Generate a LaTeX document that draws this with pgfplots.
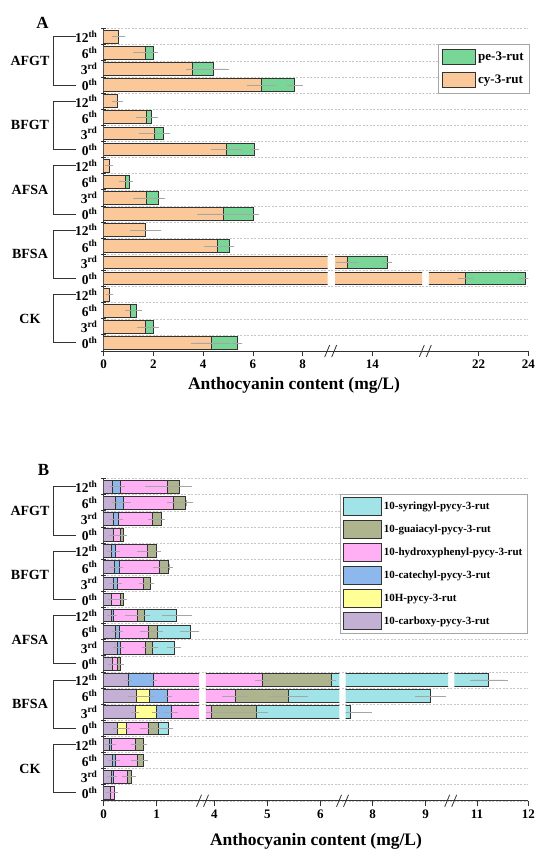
\documentclass[border=0pt]{standalone}
\usepackage{fontspec}
\setmainfont{Liberation Serif}
\usepackage{pgfplots}
\usepackage{pgfplotstable}
\pgfplotsset{compat=1.18}

\definecolor{cyA}{RGB}{251,200,154}
\definecolor{peA}{RGB}{120,215,150}
\definecolor{cyanB}{RGB}{160,228,232}
\definecolor{oliveB}{RGB}{173,180,142}
\definecolor{pinkB}{RGB}{255,176,245}
\definecolor{blueB}{RGB}{140,184,238}
\definecolor{yellowB}{RGB}{255,255,150}
\definecolor{purpleB}{RGB}{197,176,213}

% Z = zero base column (invisible first stack level)
\pgfplotstableread{
y Z cy cye pe pee
0 0 4.32 0.68 1.05 0.08
1 0 1.69 0.25 0.32 0.10
2 0 1.07 0.10 0.24 0.10
3 0 0.23 0.03 0.00 0.00
4 0 21.47 0.17 2.40 0.13
5 0 13.00 0.35 1.60 0.05
6 0 4.56 0.40 0.50 0.05
7 0 1.69 0.50 0.00 0.00
8 0 4.80 0.94 1.21 0.10
9 0 1.73 0.45 0.48 0.15
10 0 0.88 0.15 0.14 0.05
11 0 0.21 0.03 0.00 0.00
12 0 4.94 0.51 1.12 0.05
13 0 2.03 0.50 0.35 0.15
14 0 1.73 0.33 0.20 0.10
15 0 0.56 0.10 0.00 0.00
16 0 6.35 0.47 1.33 0.21
17 0 3.56 0.13 0.84 0.51
18 0 1.66 0.37 0.33 0.08
19 0 0.59 0.15 0.00 0.00
}\dataA

\pgfplotstableread{
y Z P Pe Y Ye B Be K Ke O Oe C Ce
0 0 0.12 0.02 0 0 0 0 0.08 0.02 0 0 0 0
1 0 0.14 0.02 0 0 0.04 0.02 0.27 0.05 0.08 0.02 0 0
2 0 0.16 0.02 0 0 0.07 0.02 0.40 0.05 0.12 0.03 0 0
3 0 0.11 0.02 0 0 0.04 0.02 0.45 0.03 0.14 0.02 0 0
4 0 0.26 0.02 0.16 0.02 0 0 0.43 0.10 0.19 0.08 0.19 0.03
5 0 0.59 0.02 0.40 0.02 0.28 0.07 2.68 0.60 0.85 0.15 2.78 0.34
6 0 0.61 0.10 0.25 0.05 0.35 0.02 3.19 0.19 1.00 0.31 3.69 0.23
7 0 0.46 0.01 0 0 0.48 0.01 3.97 0.09 1.30 0.03 5.02 0.31
8 0 0.16 0.02 0 0 0 0 0.10 0.03 0.05 0.02 0 0
9 0 0.25 0.02 0 0 0.06 0.02 0.48 0.02 0.13 0.05 0.41 0.07
10 0 0.23 0.02 0 0 0.06 0.02 0.56 0.10 0.16 0.05 0.62 0.13
11 0 0.14 0.02 0 0 0.04 0.02 0.46 0.18 0.13 0.05 0.61 0.23
12 0 0.15 0.02 0 0 0 0 0.17 0.03 0.05 0.02 0 0
13 0 0.18 0.02 0 0 0.08 0.02 0.49 0.02 0.13 0.02 0 0
14 0 0.20 0.02 0 0 0.09 0.02 0.76 0.06 0.18 0.03 0 0
15 0 0.14 0.02 0 0 0.09 0.02 0.60 0.14 0.16 0.03 0 0
16 0 0.18 0.03 0 0 0.01 0.01 0.13 0.03 0.05 0.02 0 0
17 0 0.19 0.02 0 0 0.09 0.02 0.64 0.02 0.16 0.02 0 0
18 0 0.23 0.02 0 0 0.14 0.09 0.94 0.05 0.24 0.08 0 0
19 0 0.17 0.02 0 0 0.14 0.03 0.90 0.38 0.21 0.18 0 0
}\dataB

\pgfplotsset{
  frame/.style={
    scale only axis, width=424.6pt, height=322.4pt,
    anchor=south west,
    xmin=103.7, xmax=528.3, ymin=-0.5, ymax=19.5,
    axis x line=bottom, axis y line=left,
    axis line style={-, black!80, line width=0.8pt},
    xtick=\empty,
    ytick={0,...,19},
    yticklabels={0\textsuperscript{th},3\textsuperscript{rd},6\textsuperscript{th},12\textsuperscript{th},
                 0\textsuperscript{th},3\textsuperscript{rd},6\textsuperscript{th},12\textsuperscript{th},
                 0\textsuperscript{th},3\textsuperscript{rd},6\textsuperscript{th},12\textsuperscript{th},
                 0\textsuperscript{th},3\textsuperscript{rd},6\textsuperscript{th},12\textsuperscript{th},
                 0\textsuperscript{th},3\textsuperscript{rd},6\textsuperscript{th},12\textsuperscript{th}},
    minor ytick={-0.5,0.5,...,19.5},
    major tick length=0pt, minor tick length=5pt, tick align=center,
    every tick/.style={black!80, line width=0.8pt},
    yminorgrids=true,
    minor grid style={gray!45, line width=0.5pt, dash pattern=on 2pt off 1.5pt},
    yticklabel style={font=\bfseries\fontsize{13.5}{14}\selectfont, inner sep=0pt, xshift=-6pt},
    clip=false,
  },
  seg/.style={
    scale only axis, height=322.4pt, anchor=south west,
    xbar stacked, bar width=12.7pt,
    ymin=-0.5, ymax=19.5,
    axis y line=none, ytick=\empty,
    axis x line=bottom,
    x axis line style={draw=none},
    tick align=outside, major tick length=5.5pt,
    every tick/.style={black!80, line width=0.8pt},
    xticklabel style={font=\bfseries\fontsize{13}{14}\selectfont},
    /pgf/number format/assume math mode=true,
  },
  br/.style={draw=black!80, line width=0.8pt,
    error bars/.cd, x dir=both, x explicit,
    error bar style={gray!70, line width=0.6pt},
    error mark options={gray!70, mark size=3pt, line width=0.6pt}},
}

\newcommand{\plotsA}{%
  \addplot[draw=none, fill=none] table[x=Z, y=y] {\dataA};
  \addplot[fill=cyA, br] table[x=cy, y=y, x error=cye] {\dataA};
  \addplot[fill=peA, br] table[x=pe, y=y, x error=pee] {\dataA};
}
\newcommand{\plotsB}{%
  \addplot[draw=none, fill=none] table[x=Z, y=y] {\dataB};
  \addplot[fill=purpleB, br] table[x=P, y=y, x error=Pe] {\dataB};
  \addplot[fill=yellowB, br] table[x=Y, y=y, x error=Ye] {\dataB};
  \addplot[fill=blueB, br] table[x=B, y=y, x error=Be] {\dataB};
  \addplot[fill=pinkB, br] table[x=K, y=y, x error=Ke] {\dataB};
  \addplot[fill=oliveB, br] table[x=O, y=y, x error=Oe] {\dataB};
  \addplot[fill=cyanB, br] table[x=C, y=y, x error=Ce] {\dataB};
}

\begin{document}
\begin{tikzpicture}
\useasboundingbox (0,0) rectangle (537pt,850pt);

% ---------------- Panel A ----------------
\begin{axis}[frame, at={(103.7pt,499pt)},
  legend image code/.code={\draw[#1] (0pt,-7.5pt) rectangle (33pt,7.5pt);},
  legend style={at={(axis description cs:1.004,0.952)}, anchor=north east,
    draw=gray!70, line width=0.6pt, font=\bfseries\fontsize{13}{14}\selectfont,
    row sep=7pt, inner xsep=4pt, inner ysep=5pt, cells={anchor=west}},
]
\addlegendimage{fill=peA, draw=black!80, line width=0.8pt}
\addlegendentry{pe-3-rut}
\addlegendimage{fill=cyA, draw=black!80, line width=0.8pt}
\addlegendentry{cy-3-rut}
\draw[black!80, line width=0.9pt] (axis cs:76,19) -- (axis cs:53.3,19) -- (axis cs:53.3,16) -- (axis cs:76,16);
\draw[black!80, line width=0.9pt] (axis cs:76,15) -- (axis cs:53.3,15) -- (axis cs:53.3,12) -- (axis cs:76,12);
\draw[black!80, line width=0.9pt] (axis cs:76,11) -- (axis cs:53.3,11) -- (axis cs:53.3,8) -- (axis cs:76,8);
\draw[black!80, line width=0.9pt] (axis cs:76,7) -- (axis cs:53.3,7) -- (axis cs:53.3,4) -- (axis cs:76,4);
\draw[black!80, line width=0.9pt] (axis cs:76,3) -- (axis cs:53.3,3) -- (axis cs:53.3,0) -- (axis cs:76,0);
\node[font=\bfseries\fontsize{14}{15}\selectfont] at (axis cs:30,17.5) {AFGT};
\node[font=\bfseries\fontsize{14}{15}\selectfont] at (axis cs:30,13.5) {BFGT};
\node[font=\bfseries\fontsize{14}{15}\selectfont] at (axis cs:30,9.5) {AFSA};
\node[font=\bfseries\fontsize{14}{15}\selectfont] at (axis cs:30,5.5) {BFSA};
\node[font=\bfseries\fontsize{14}{15}\selectfont] at (axis cs:30,1.5) {CK};
\end{axis}

\begin{axis}[seg, at={(103.7pt,499pt)}, width=223.9pt, xmin=0, xmax=9, xtick={0,2,4,6,8}]
\plotsA
\end{axis}
\begin{axis}[seg, at={(335pt,499pt)}, width=87.1pt, xmin=12.5, xmax=16, xtick={14}]
\plotsA
\end{axis}
\begin{axis}[seg, at={(428.8pt,499pt)}, width=99.5pt, xmin=20, xmax=24, xtick={22,24}]
\plotsA
\end{axis}

% ---------------- Panel B ----------------
\begin{axis}[frame, at={(103.7pt,49.2pt)}, height=322.2pt,
  legend image code/.code={\draw[#1] (0pt,-8.8pt) rectangle (38pt,8.8pt);},
  legend style={at={(axis description cs:0.9986,0.952)}, anchor=north east,
    draw=gray!70, line width=0.6pt, font=\bfseries\fontsize{11}{12}\selectfont,
    row sep=4.5pt, inner xsep=3pt, inner ysep=3pt, cells={anchor=west}},
]
\addlegendimage{fill=cyanB, draw=black!80, line width=0.8pt}
\addlegendentry{10-syringyl-pycy-3-rut}
\addlegendimage{fill=oliveB, draw=black!80, line width=0.8pt}
\addlegendentry{10-guaiacyl-pycy-3-rut}
\addlegendimage{fill=pinkB, draw=black!80, line width=0.8pt}
\addlegendentry{10-hydroxyphenyl-pycy-3-rut}
\addlegendimage{fill=blueB, draw=black!80, line width=0.8pt}
\addlegendentry{10-catechyl-pycy-3-rut}
\addlegendimage{fill=yellowB, draw=black!80, line width=0.8pt}
\addlegendentry{10H-pycy-3-rut}
\addlegendimage{fill=purpleB, draw=black!80, line width=0.8pt}
\addlegendentry{10-carboxy-pycy-3-rut}
\draw[black!80, line width=0.9pt] (axis cs:76,19) -- (axis cs:53.3,19) -- (axis cs:53.3,16) -- (axis cs:76,16);
\draw[black!80, line width=0.9pt] (axis cs:76,15) -- (axis cs:53.3,15) -- (axis cs:53.3,12) -- (axis cs:76,12);
\draw[black!80, line width=0.9pt] (axis cs:76,11) -- (axis cs:53.3,11) -- (axis cs:53.3,8) -- (axis cs:76,8);
\draw[black!80, line width=0.9pt] (axis cs:76,7) -- (axis cs:53.3,7) -- (axis cs:53.3,4) -- (axis cs:76,4);
\draw[black!80, line width=0.9pt] (axis cs:76,3) -- (axis cs:53.3,3) -- (axis cs:53.3,0) -- (axis cs:76,0);
\node[font=\bfseries\fontsize{14}{15}\selectfont] at (axis cs:30,17.5) {AFGT};
\node[font=\bfseries\fontsize{14}{15}\selectfont] at (axis cs:30,13.5) {BFGT};
\node[font=\bfseries\fontsize{14}{15}\selectfont] at (axis cs:30,9.5) {AFSA};
\node[font=\bfseries\fontsize{14}{15}\selectfont] at (axis cs:30,5.5) {BFSA};
\node[font=\bfseries\fontsize{14}{15}\selectfont] at (axis cs:30,1.5) {CK};
\end{axis}

\begin{axis}[seg, at={(103.7pt,49.2pt)}, height=322.2pt, width=95.4pt, xmin=0, xmax=1.8, xtick={0,1}]
\plotsB
\end{axis}
\begin{axis}[seg, at={(205.8pt,49.2pt)}, height=322.2pt, width=133.6pt, xmin=3.84, xmax=6.36, xtick={4,5,6}]
\plotsB
\end{axis}
\begin{axis}[seg, at={(345.7pt,49.2pt)}, height=322.2pt, width=102.3pt, xmin=7.49, xmax=9.42, xtick={8,9}]
\plotsB
\end{axis}
\begin{axis}[seg, at={(454.4pt,49.2pt)}, height=322.2pt, width=73.9pt, xmin=10.56, xmax=12, xtick={11,12}]
\plotsB
\end{axis}

% ---------------- labels and break marks ----------------
\node[font=\bfseries\fontsize{17}{18}\selectfont] at (42.5pt,827.5pt) {A};
\node[font=\bfseries\fontsize{17}{18}\selectfont] at (43.5pt,380pt) {B};
\node[font=\bfseries\fontsize{17.5}{19}\selectfont, anchor=base] at (294pt,460pt) {Anthocyanin content (mg/L)};
\node[font=\bfseries\fontsize{17.5}{19}\selectfont, anchor=base] at (316pt,5pt) {Anthocyanin content (mg/L)};

\foreach \cx in {330.7,425.3} {
  \draw[black!80, line width=0.8pt] (\cx pt-6pt,493pt) -- (\cx pt-1pt,505pt);
  \draw[black!80, line width=0.8pt] (\cx pt+1pt,493pt) -- (\cx pt+6pt,505pt);
}
\foreach \cx in {202.5,342.5,450.7} {
  \draw[black!80, line width=0.8pt] (\cx pt-6pt,43.2pt) -- (\cx pt-1pt,55.2pt);
  \draw[black!80, line width=0.8pt] (\cx pt+1pt,43.2pt) -- (\cx pt+6pt,55.2pt);
}
\end{tikzpicture}
\end{document}
